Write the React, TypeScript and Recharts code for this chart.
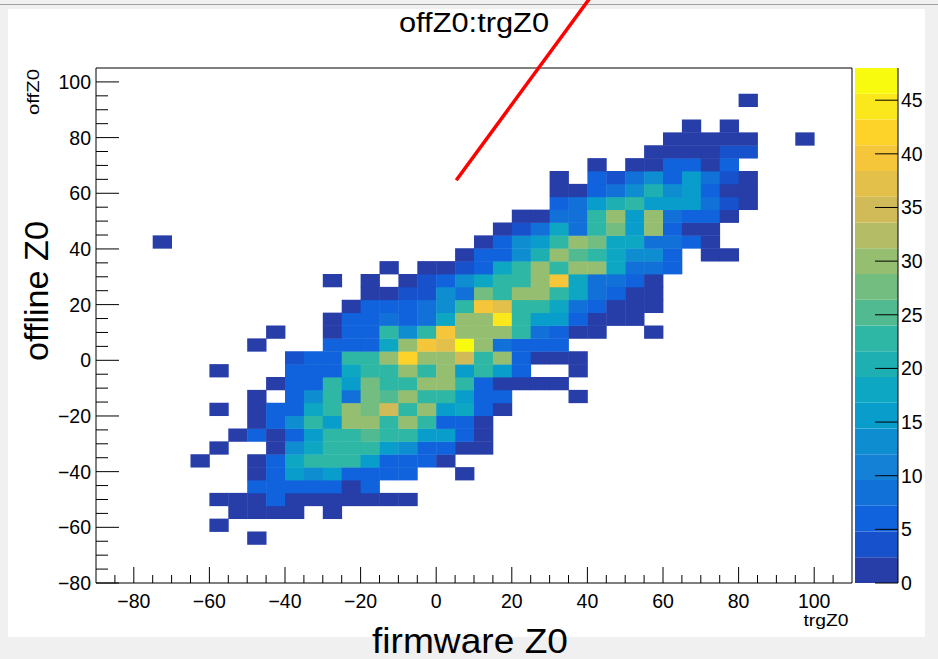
import React from 'react';
import { ScatterChart, Scatter, XAxis, YAxis, ReferenceArea, ReferenceLine, BarChart, Bar } from 'recharts';

// ---- histogram binning (ROOT TH2 40x40) ----
const X_MIN = -90;
const X_MAX = 110;
const X_BIN = 5;
const Y_MIN = -80;
const Y_MAX = 105;
const Y_BIN = 4.625;
const Z_MAX = 48;
const N_LEVELS = 20;

// rows of bin contents: [yBinIndex, firstXBinIndex, counts...]
const histRows: [number, number, number[]][] = [
  [3, 8, [1]],
  [4, 6, [1]],
  [5, 7, [2, 2, 2, 2, 0, 1]],
  [6, 6, [2, 2, 2, 5, 2, 2, 2, 2, 2, 2, 1]],
  [7, 8, [5, 6, 6, 6, 6, 2, 5]],
  [8, 8, [2, 6, 15, 12, 15, 7, 7, 6, 6, 0, 0, 1]],
  [9, 5, [1, 0, 0, 2, 6, 19, 22, 22, 22, 15, 7, 7, 6, 2]],
  [10, 6, [1, 0, 0, 2, 12, 18, 22, 22, 22, 15, 12, 7, 7, 2, 2]],
  [11, 7, [2, 5, 2, 6, 15, 22, 22, 26, 22, 22, 15, 15, 6, 2]],
  [12, 8, [2, 6, 13, 22, 15, 30, 30, 22, 30, 22, 7, 6, 2]],
  [13, 6, [1, 0, 2, 6, 6, 19, 22, 30, 27, 35, 22, 30, 15, 18, 7, 2]],
  [14, 8, [1, 0, 6, 12, 22, 8, 28, 25, 30, 22, 22, 15, 7, 7, 0, 0, 0, 1]],
  [15, 9, [2, 6, 7, 22, 15, 28, 22, 22, 30, 30, 22, 7, 2, 2, 2, 2]],
  [16, 6, [1, 0, 0, 0, 6, 7, 7, 19, 22, 22, 30, 22, 30, 15, 22, 15, 7, 0, 0, 1]],
  [17, 10, [3, 6, 6, 22, 22, 30, 42, 30, 30, 35, 22, 30, 7, 2, 2, 2]],
  [18, 8, [1, 0, 0, 0, 5, 6, 7, 19, 30, 40, 36, 48, 30, 8, 7, 7, 6]],
  [19, 9, [1, 0, 0, 2, 6, 7, 22, 12, 22, 40, 30, 30, 30, 22, 8, 7, 2, 2, 0, 0, 1]],
  [20, 12, [2, 6, 7, 8, 7, 8, 19, 30, 31, 44, 22, 15, 15, 7, 2, 2, 1]],
  [21, 13, [2, 6, 6, 6, 9, 13, 22, 40, 37, 22, 23, 19, 8, 7, 2, 2, 1]],
  [22, 14, [2, 2, 3, 3, 13, 8, 27, 22, 30, 30, 22, 19, 8, 5, 2, 2]],
  [23, 12, [1, 0, 1, 0, 2, 3, 7, 13, 18, 22, 22, 30, 40, 19, 8, 8, 6, 2]],
  [24, 15, [1, 0, 2, 2, 3, 6, 19, 23, 29, 22, 30, 29, 17, 8, 8, 6]],
  [25, 19, [2, 6, 7, 12, 20, 30, 24, 22, 19, 12, 12, 7, 0, 2, 1]],
  [26, 3, [1]],
  [26, 20, [2, 7, 12, 15, 22, 30, 27, 19, 18, 8, 8, 6, 2]],
  [27, 21, [2, 3, 8, 19, 8, 22, 27, 15, 30, 7, 2, 2]],
  [28, 22, [2, 2, 8, 8, 22, 30, 15, 30, 8, 6, 6, 2]],
  [29, 24, [6, 8, 15, 20, 22, 15, 15, 15, 8, 4, 2]],
  [30, 24, [2, 2, 7, 8, 14, 20, 12, 15, 7, 2, 2]],
  [31, 24, [2, 0, 6, 3, 8, 13, 6, 16, 8, 4, 2]],
  [32, 26, [1, 0, 2, 2, 6, 6, 2, 5]],
  [33, 29, [2, 2, 2, 2, 4, 4]],
  [34, 30, [1, 2, 2, 2, 1, 0, 0, 1]],
  [35, 31, [1, 0, 1]],
  [37, 34, [1]],
];

const xTickValues = [-85, -80, -75, -70, -65, -60, -55, -50, -45, -40, -35, -30, -25, -20, -15, -10, -5, 0, 5, 10, 15, 20, 25, 30, 35, 40, 45, 50, 55, 60, 65, 70, 75, 80, 85, 90, 95, 100, 105];
const yTickValues = [-80, -75, -70, -65, -60, -55, -50, -45, -40, -35, -30, -25, -20, -15, -10, -5, 0, 5, 10, 15, 20, 25, 30, 35, 40, 45, 50, 55, 60, 65, 70, 75, 80, 85, 90, 95, 100];
const zTickValues = [0, 5, 10, 15, 20, 25, 30, 35, 40, 45];

// red annotation stroke (data coordinates)
const annotation = [
  { x: 5.3, y: 64.7 },
  { x: 43.3, y: 135 },
];

// ---- layout ----
const W = 938;
const H = 659;
const PL = 96;
const PR = 852;
const PT = 68;
const PB = 583;
const CELL_W = ((PR - PL) / (X_MAX - X_MIN)) * X_BIN;
const CELL_H = ((PB - PT) / (Y_MAX - Y_MIN)) * Y_BIN;
const FONT = '"Liberation Sans", Arial, Helvetica, sans-serif';
const TICK_FONT = 19.5;

// ROOT kBird palette
const stops = [0, 0.125, 0.25, 0.375, 0.5, 0.625, 0.75, 0.875, 1];
const red = [0.2082, 0.0592, 0.078, 0.0232, 0.1802, 0.5301, 0.8186, 0.9956, 0.9764];
const green = [0.1664, 0.3599, 0.5041, 0.6419, 0.7178, 0.7492, 0.7328, 0.7862, 0.9832];
const blue = [0.5293, 0.8684, 0.8385, 0.7914, 0.6425, 0.4662, 0.3499, 0.1968, 0.0539];

function paletteAt(f: number): string {
  let s = 0;
  while (s < stops.length - 2 && f > stops[s + 1]) s++;
  const t = (f - stops[s]) / (stops[s + 1] - stops[s]);
  const c = (a: number[]) => Math.round((a[s] + (a[s + 1] - a[s]) * t) * 255);
  return `rgb(${c(red)},${c(green)},${c(blue)})`;
}
function levelColor(level: number): string {
  const idx = Math.floor(((level + 0.99) * 255) / N_LEVELS);
  return paletteAt(Math.min(idx, 254) / 254);
}
function colorFor(z: number): string {
  const lvl = Math.min(N_LEVELS - 1, Math.floor(0.01 + (z / Z_MAX) * N_LEVELS));
  return levelColor(lvl);
}

const cells: { x: number; y: number; z: number }[] = [];
histRows.forEach(([k, i0, counts]) => {
  counts.forEach((z, j) => {
    if (z > 0) {
      cells.push({ x: X_MIN + (i0 + j + 0.5) * X_BIN, y: Y_MIN + (k + 0.5) * Y_BIN, z });
    }
  });
});

const bandKeys = Array.from({ length: N_LEVELS }, (_, b) => `b${b}`);
const bandRow: Record<string, number | string> = { name: 'z' };
bandKeys.forEach((k) => (bandRow[k] = Z_MAX / N_LEVELS));

const fmt = (v: number) => (v < 0 ? `\u2212${Math.abs(v)}` : `${v}`);

const CellShape = (p: any) => (
  <rect
    x={p.cx - CELL_W / 2}
    y={p.cy - CELL_H / 2}
    width={CELL_W + 0.4}
    height={CELL_H + 0.4}
    fill={colorFor(p.payload.z)}
  />
);

const XTick = (p: any) => {
  const v = p.payload.value;
  const major = v % 20 === 0;
  return (
    <g>
      <line x1={p.x} x2={p.x} y1={p.y} y2={p.y - (major ? 16 : 8)} stroke="#000" strokeWidth={1} />
      {major && (
        <text x={p.x} y={p.y + 25} textAnchor="middle" fontFamily={FONT} fontSize={TICK_FONT} fill="#000">
          {fmt(v)}
        </text>
      )}
    </g>
  );
};

const YTick = (p: any) => {
  const v = p.payload.value;
  const major = v % 20 === 0;
  return (
    <g>
      <line x1={p.x} x2={p.x + (major ? 23 : 12)} y1={p.y} y2={p.y} stroke="#000" strokeWidth={1} />
      {major && (
        <text x={p.x - 5} y={p.y + 7} textAnchor="end" fontFamily={FONT} fontSize={TICK_FONT} fill="#000">
          {fmt(v)}
        </text>
      )}
    </g>
  );
};

const ZTick = (p: any) => {
  const v = p.payload.value;
  return (
    <g>
      <line x1={p.x - 23} x2={p.x} y1={p.y} y2={p.y} stroke="#000" strokeWidth={1} />
      <text x={p.x + 3} y={p.y + 7} textAnchor="start" fontFamily={FONT} fontSize={TICK_FONT} fill="#000">
        {v}
      </text>
    </g>
  );
};

export default function App() {
  return (
    <div style={{ position: 'absolute', left: 0, top: 0, width: W, height: H, background: '#f0f0f0', overflow: 'hidden' }}>
      <div style={{ position: 'absolute', left: 0, top: 4, width: W, height: 1, background: '#a0a0a0' }} />
      <div style={{ position: 'absolute', left: 8, top: 9, width: 917, height: 628, background: '#ffffff' }} />
      <div style={{ position: 'absolute', left: 0, top: 0 }}>
        <ScatterChart width={W} height={H} margin={{ top: PT, right: W - PR, bottom: H - PB - 30, left: PL - 50 }}>
          <XAxis
            type="number"
            dataKey="x"
            domain={[X_MIN, X_MAX]}
            ticks={xTickValues}
            interval={0}
            tickSize={0}
            tickMargin={0}
            axisLine={false}
            tickLine={false}
            tick={<XTick />}
            height={30}
            allowDataOverflow
          />
          <YAxis
            type="number"
            dataKey="y"
            domain={[Y_MIN, Y_MAX]}
            ticks={yTickValues}
            interval={0}
            tickSize={0}
            tickMargin={0}
            axisLine={false}
            tickLine={false}
            tick={<YTick />}
            width={50}
            allowDataOverflow
          />
          <Scatter data={cells} shape={<CellShape />} isAnimationActive={false} />
          <ReferenceArea x1={X_MIN} x2={X_MAX} y1={Y_MIN} y2={Y_MAX} fill="none" fillOpacity={0} stroke="#000" strokeWidth={1} ifOverflow="visible" />
          <ReferenceLine segment={annotation} stroke="#ff0000" strokeWidth={3.5} ifOverflow="visible" />
        </ScatterChart>
      </div>
      <div style={{ position: 'absolute', left: 0, top: 0 }}>
        <BarChart
          width={W}
          height={H}
          data={[bandRow]}
          margin={{ top: PT, right: 0, bottom: H - PB, left: 855 }}
          barCategoryGap={0}
          barGap={0}
        >
          <XAxis dataKey="name" hide />
          <YAxis
            orientation="right"
            type="number"
            domain={[0, Z_MAX]}
            ticks={zTickValues}
            interval={0}
            tickSize={0}
            tickMargin={0}
            tickLine={false}
            axisLine={{ stroke: '#000' }}
            tick={<ZTick />}
            width={40}
            allowDataOverflow
          />
          {bandKeys.map((k, b) => (
            <Bar key={k} dataKey={k} stackId="z" fill={levelColor(b)} isAnimationActive={false} />
          ))}
        </BarChart>
      </div>
      <svg width={W} height={H} style={{ position: 'absolute', left: 0, top: 0, pointerEvents: 'none' }}>
        <text x={474} y={32} textAnchor="middle" fontFamily={FONT} fontSize={27} textLength={150} lengthAdjust="spacingAndGlyphs" fill="#000">offZ0:trgZ0</text>
        <text transform="translate(39,92) rotate(-90)" textAnchor="middle" fontFamily={FONT} fontSize={17} textLength={46} lengthAdjust="spacingAndGlyphs" fill="#000">offZ0</text>
        <text x={826} y={626} textAnchor="middle" fontFamily={FONT} fontSize={17} textLength={45} lengthAdjust="spacingAndGlyphs" fill="#000">trgZ0</text>
        <text transform="translate(48,291) rotate(-90)" textAnchor="middle" fontFamily={FONT} fontSize={34} textLength={140} lengthAdjust="spacingAndGlyphs" fill="#000">offline Z0</text>
        <text x={470} y={653} textAnchor="middle" fontFamily={FONT} fontSize={35} textLength={196} lengthAdjust="spacingAndGlyphs" fill="#000">firmware Z0</text>
      </svg>
    </div>
  );
}
